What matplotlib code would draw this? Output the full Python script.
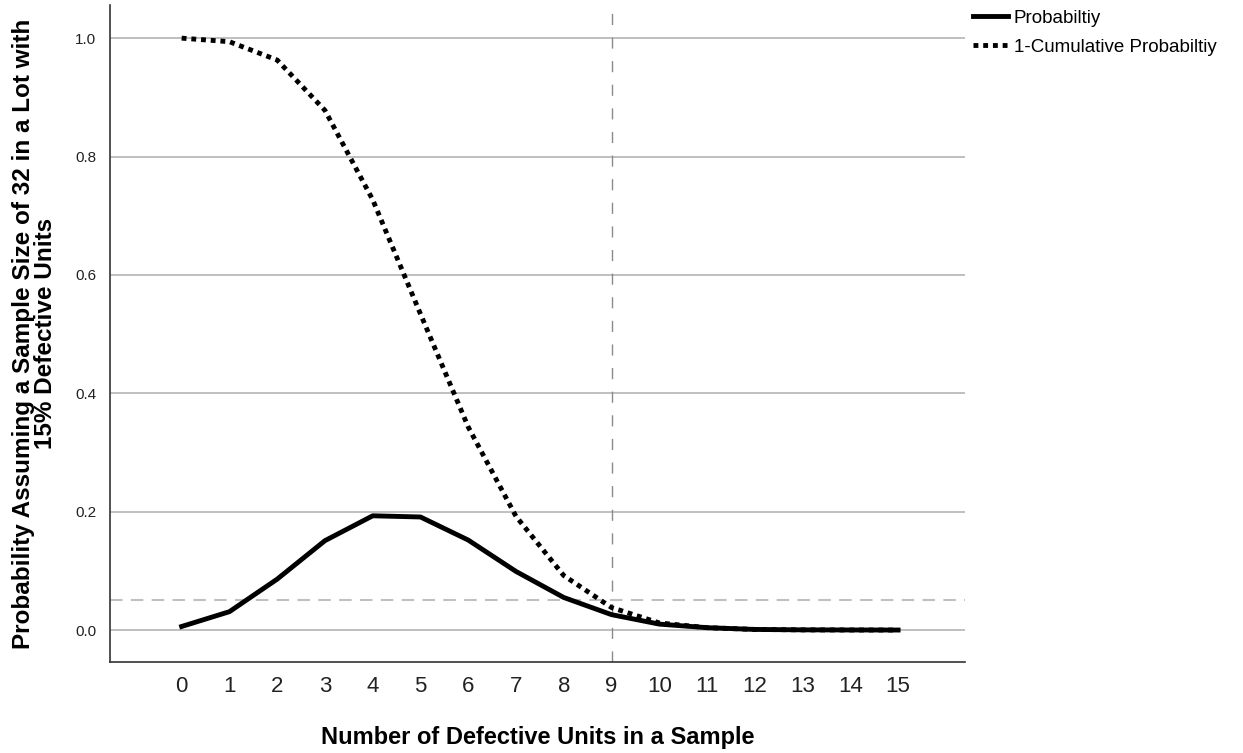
import numpy as np
import matplotlib.pyplot as plt

plt.rcParams['font.family'] = ['Liberation Sans', 'DejaVu Sans']

# Veri
defects = list(range(16))
probability = [0.006, 0.031, 0.086, 0.151, 0.193, 0.191, 0.152, 0.099, 0.055,
               0.026, 0.010, 0.004, 0.001, 0.0003, 0.0001, 0.0]
one_minus_cum = [1.000, 0.994, 0.963, 0.878, 0.727, 0.534, 0.343, 0.192, 0.092,
                 0.038, 0.012, 0.004, 0.001, 0.0003, 0.0001, 0.0]
tick_labels = [str(d) for d in defects]
alpha_level = 0.05
cutoff = 9

fig = plt.figure(figsize=(12.43, 7.53), dpi=100)
ax = fig.add_axes([110 / 1243, 1 - 662 / 753, 855 / 1243, 657 / 753])

for yv in [0.0, 0.2, 0.4, 0.6, 0.8, 1.0]:
    ax.axhline(yv, color='#b4b4b4', lw=1.2, zorder=1)
ax.axhline(alpha_level, color='#c0c0c0', lw=1.5, ls=(0, (6, 4)), zorder=1)
ax.axvline(cutoff, color='#8a8a8a', lw=1.0, ls=(0, (8, 9)), zorder=1)

ax.plot(defects, probability, color='black', lw=3.5, solid_joinstyle='round',
        label='Probabiltiy', zorder=3)
ax.plot(defects, one_minus_cum, color='black', lw=3.5, ls=(0, (1, 1)),
        label='1-Cumulative Probabiltiy', zorder=3)

ax.set_xlim(-1.5, 16.4)
ax.set_ylim(-0.054, 1.056)
ax.set_xticks(defects)
ax.set_xticklabels(tick_labels, fontsize=16, color='#222222')
ax.set_yticks([0.0, 0.2, 0.4, 0.6, 0.8, 1.0])
ax.set_yticklabels(['0.0', '0.2', '0.4', '0.6', '0.8', '1.0'], fontsize=11, color='#222222')
ax.tick_params(axis='both', length=0)
ax.tick_params(axis='y', pad=10)
ax.tick_params(axis='x', pad=10)

for s in ['top', 'right']:
    ax.spines[s].set_visible(False)
for s in ['left', 'bottom']:
    ax.spines[s].set_color('#333333')
    ax.spines[s].set_linewidth(1.2)

ax.set_xlabel('Number of Defective Units in a Sample', fontsize=17, fontweight='bold', labelpad=21)
ax.set_ylabel('Probability Assuming a Sample Size of 32 in a Lot with\n15% Defective Units',
              fontsize=17.5, fontweight='bold', labelpad=13, linespacing=0.95,
              multialignment='center')

fig.legend(loc='upper left', bbox_to_anchor=(965 / 1243, 1 - 2 / 753), frameon=False,
           fontsize=13.5, handlelength=1.9, handletextpad=0.3, borderaxespad=0,
           labelspacing=0.65)

fig.savefig('out.png', dpi=100)
